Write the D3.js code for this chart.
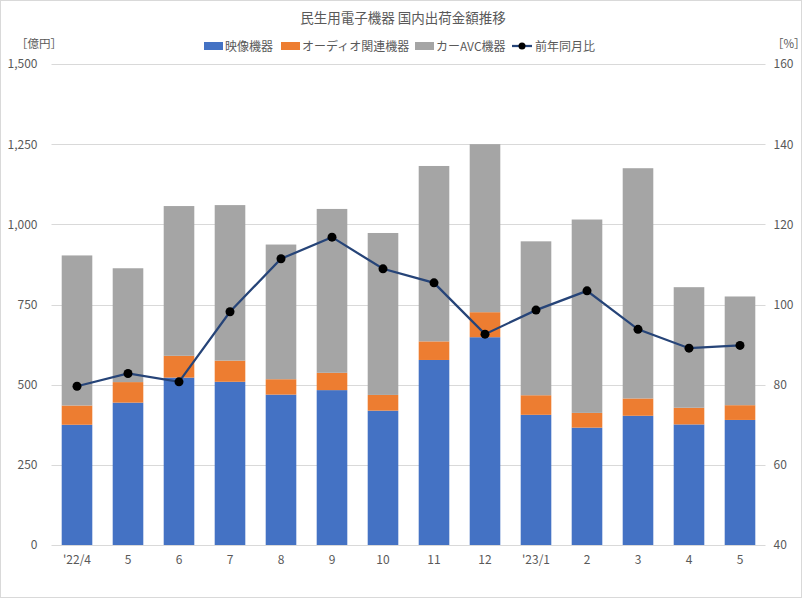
<!DOCTYPE html>
<html><head><meta charset="utf-8">
<script src="https://cdn.jsdelivr.net/npm/d3@7"></script>
<style>body{margin:0;background:#fff}text{font-family:"Noto Sans CJK JP","Noto Sans",sans-serif}</style>
</head><body><svg id="c" width="806" height="600"></svg>
<script>
const categories = ["'22/4","5","6","7","8","9","10","11","12","'23/1","2","3","4","5"];
const video = [375,444,522,509,469,483,419,577,648,406,366,403,376,390];
const audio = [60,64,68,66,48,54,49,58,78,61,46,54,52,46];
const carAVC = [468,355,467,485,420,511,505,547,524,480,603,718,376,339];
const yoy = [79.6,82.8,80.7,98.2,111.4,116.8,108.9,105.4,92.6,98.6,103.4,93.8,89.1,89.8];
const leftTicks = [0,250,500,750,1000,1250,1500];
const rightTicks = [40,60,80,100,120,140,160];
const seriesNames = ["映像機器","オーディオ関連機器","カーAVC機器","前年同月比"];
const colors = ["#4472C4","#ED7D31","#A5A5A5","#264478"];

const svg = d3.select("#c");
const L = 51.5, R = 765.5, T = 64, B = 545;
svg.append("rect").attr("x",0.5).attr("y",0.5).attr("width",801).attr("height",597)
  .attr("fill","#fff").attr("stroke","#d9d9d9");

const x = d3.scaleBand().domain(d3.range(categories.length)).range([L,R]).paddingInner(0.4).paddingOuter(0.2);
const y = d3.scaleLinear().domain([0,1500]).range([B,T]);
const y2 = d3.scaleLinear().domain([40,160]).range([B,T]);

// gridlines
svg.append("g").selectAll("line").data(leftTicks).join("line")
  .attr("x1",L).attr("x2",R).attr("y1",d=>Math.round(y(d))+0.5).attr("y2",d=>Math.round(y(d))+0.5)
  .attr("stroke","#d9d9d9").attr("stroke-width",1);

// left axis
const la = svg.append("g").attr("transform",`translate(${L},0)`)
  .call(d3.axisLeft(y).tickValues(leftTicks).tickFormat(d3.format(",")).tickSize(0).tickPadding(14));
la.select(".domain").remove();
la.selectAll("text").attr("font-size",12).attr("fill","#595959");

const ra = svg.append("g").attr("transform",`translate(${R},0)`)
  .call(d3.axisRight(y2).tickValues(rightTicks).tickSize(0).tickPadding(8));
ra.select(".domain").remove();
ra.selectAll("text").attr("font-size",12).attr("fill","#595959");

const xa = svg.append("g").attr("transform",`translate(0,${B})`)
  .call(d3.axisBottom(x).tickFormat(i=>categories[i]).tickSize(0).tickPadding(10));
xa.select(".domain").remove();
xa.selectAll("text").attr("font-size",12).attr("fill","#595959");

// stacked bars
const rows = categories.map((c,i)=>({i, v:video[i], a:audio[i], c:carAVC[i]}));
const stack = d3.stack().keys(["v","a","c"])(rows);
svg.append("g").selectAll("g").data(stack).join("g").attr("fill",(d,k)=>colors[k])
  .selectAll("rect").data(d=>d).join("rect")
  .attr("x",d=>x(d.data.i)).attr("width",x.bandwidth())
  .attr("y",d=>y(d[1])).attr("height",d=>y(d[0])-y(d[1]));

// line
const line = d3.line().x((d,i)=>x(i)+x.bandwidth()/2).y(d=>y2(d));
svg.append("path").datum(yoy).attr("d",line).attr("fill","none").attr("stroke",colors[3]).attr("stroke-width",2.25);
svg.append("g").selectAll("circle").data(yoy).join("circle")
  .attr("cx",(d,i)=>x(i)+x.bandwidth()/2).attr("cy",d=>y2(d)).attr("r",4.5).attr("fill","#000");

// title
svg.append("text").attr("x",403).attr("y",23).attr("text-anchor","middle").attr("font-size",13.5).attr("fill","#595959")
  .text("民生用電子機器 国内出荷金額推移");
svg.append("text").attr("x",16).attr("y",48).attr("font-size",11.5).attr("fill","#595959").text("［億円］");
svg.append("text").attr("x",772).attr("y",48).attr("font-size",11.5).attr("fill","#595959").text("［%］");

// legend
const lg = svg.append("g").attr("font-size",12).attr("fill","#595959");
const lx = [204,281,415,512];
seriesNames.forEach((n,k)=>{
  if(k<3){
    lg.append("rect").attr("x",lx[k]).attr("y",42).attr("width",19).attr("height",8).attr("fill",colors[k]);
    lg.append("text").attr("x",lx[k]+21).attr("y",51).text(n);
  } else {
    lg.append("line").attr("x1",lx[k]).attr("x2",lx[k]+20).attr("y1",46).attr("y2",46).attr("stroke",colors[3]).attr("stroke-width",2.25);
    lg.append("circle").attr("cx",lx[k]+10).attr("cy",46).attr("r",3.5).attr("fill","#000");
    lg.append("text").attr("x",lx[k]+23).attr("y",51).text(n);
  }
});
</script></body></html>
